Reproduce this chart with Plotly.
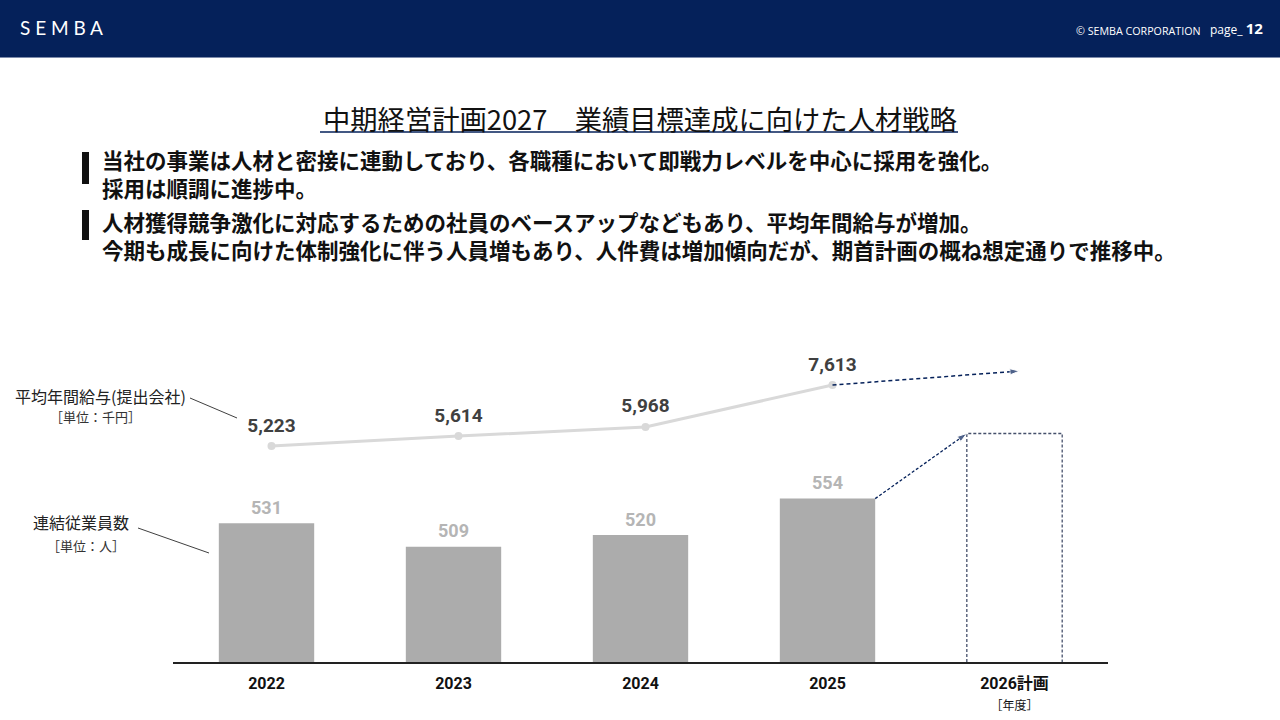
import plotly.graph_objects as go

# data
years = ["2022", "2023", "2024", "2025", "2026計画"]
employees = [531, 509, 520, 554]
employees_plan = 615      # dashed target box, no label on the slide
salary = [5223, 5614, 5968, 7613]
salary_plan = 8160        # where the dashed arrow points

NAVY = "#05215a"
FONT = "Noto Sans CJK JP"
NUMFONT = "Roboto, Noto Sans CJK JP"

W, H = 1280, 720
L, R, T, B = 173, 1108, 300, 662   # plot area in pixels
BAR_W = 0.51
Y1 = [401, 740]
Y2 = [-3241, 10944]


def px(x):
    return (x - L) / (R - L)


def py(y):
    return (B - y) / (B - T)


idx = list(range(len(years)))
fig = go.Figure()

fig.add_trace(go.Bar(
    x=idx[:4], y=employees, width=BAR_W,
    marker=dict(color="#acacac", line=dict(width=0)),
    hoverinfo="skip",
))
# bar value labels (text-only scatter so the gap above the bar can be tuned)
fig.add_trace(go.Scatter(
    x=idx[:4], y=employees, mode="text+markers",
    marker=dict(size=6, opacity=0),
    text=[str(v) for v in employees], textposition="top center",
    textfont=dict(family=NUMFONT, size=18, color="#b5b5b5", weight="bold"),
    hoverinfo="skip", cliponaxis=False,
))

# dashed plan box
x0, x1 = idx[4] - BAR_W / 2, idx[4] + BAR_W / 2
fig.add_trace(go.Scatter(
    x=[x0, x0, x1, x1], y=[Y1[0], employees_plan, employees_plan, Y1[0]],
    mode="lines", line=dict(color="#45506b", width=1.3, dash="3px,2px"),
    hoverinfo="skip",
))

# dashed arrow from 2025 bar to plan box
fig.add_trace(go.Scatter(
    x=[idx[3] + BAR_W / 2, x0], y=[employees[3], employees_plan],
    mode="lines+markers", line=dict(color=NAVY, width=1.3, dash="3px,2px"),
    marker=dict(symbol=["circle", "arrow"], size=[0, 10], color=NAVY, angleref="previous"),
    hoverinfo="skip", cliponaxis=False,
))

# salary line
fig.add_trace(go.Scatter(
    x=idx[:4], y=salary, xaxis="x2", yaxis="y2",
    mode="lines+markers",
    line=dict(color="#d9d9d9", width=3),
    marker=dict(color="#d9d9d9", size=8),
    hoverinfo="skip", cliponaxis=False,
))
fig.add_trace(go.Scatter(
    x=idx[:4], y=salary, xaxis="x2", yaxis="y2",
    mode="text+markers", marker=dict(size=14, opacity=0),
    text=[f"{v:,}" for v in salary], textposition="top center",
    textfont=dict(family=NUMFONT, size=19, color="#404040", weight="bold"),
    hoverinfo="skip", cliponaxis=False,
))

fig.add_trace(go.Scatter(
    x=[idx[3], idx[4]], y=[salary[3], salary_plan], xaxis="x2", yaxis="y2",
    mode="lines+markers", line=dict(color=NAVY, width=1.5, dash="4px,3px"),
    marker=dict(symbol=["circle", "arrow"], size=[0, 10], color=NAVY, angleref="previous"),
    hoverinfo="skip", cliponaxis=False,
))

ticks = [f"<b>{y}</b>" for y in years]
ticks[4] = "<b>2026計画</b><br><span style='font-size:12px'>［年度］</span>"

shapes = [
    dict(type="rect", xref="paper", yref="paper", x0=px(0), x1=px(W), y0=py(0), y1=py(57),
         fillcolor=NAVY, line=dict(width=0), layer="below"),
    dict(type="line", xref="paper", yref="paper", x0=px(0), x1=px(W), y0=py(57.5), y1=py(57.5),
         line=dict(color="#7d8bab", width=1)),
    dict(type="line", xref="paper", yref="paper", x0=px(320), x1=px(958), y0=py(132), y1=py(132),
         line=dict(color=NAVY, width=1.5)),
    dict(type="rect", xref="paper", yref="paper", x0=px(82), x1=px(89), y0=py(152), y1=py(184),
         fillcolor="#111111", line=dict(width=0)),
    dict(type="rect", xref="paper", yref="paper", x0=px(82), x1=px(89), y0=py(210), y1=py(240),
         fillcolor="#111111", line=dict(width=0)),
    dict(type="line", xref="paper", yref="paper", x0=px(190), x1=px(237), y0=py(398), y1=py(418),
         line=dict(color="#404040", width=1)),
    dict(type="line", xref="paper", yref="paper", x0=px(138), x1=px(209), y0=py(528), y1=py(553),
         line=dict(color="#404040", width=1)),
]


def note(text, x, y, size, color="#111111", anchor="left", family=FONT, weight="normal"):
    return dict(text=text, x=px(x), y=py(y), xref="paper", yref="paper",
                xanchor=anchor, yanchor="middle", showarrow=False, align=anchor,
                font=dict(family=family, size=size, color=color, weight=weight))


annotations = [
    note("S E M B A", 18, 28, 19, "#ffffff", family="Lato"),
    note("© SEMBA CORPORATION", 1203, 31, 10.7, "#ffffff", anchor="right", family="Open Sans"),
    note("page_ <b><span style='font-size:15px'>12</span></b>", 1265, 28, 12, "#ffffff",
         anchor="right", family="Open Sans"),
    note("中期経営計画2027　業績目標達成に向けた人材戦略", 640, 118, 27.3, anchor="center"),
    note("当社の事業は人材と密接に連動しており、各職種において即戦力レベルを中心に採用を強化。<br>"
         "採用は順調に進捗中。", 100, 173, 21.5, weight="bold"),
    note("人材獲得競争激化に対応するための社員のベースアップなどもあり、平均年間給与が増加。<br>"
         "今期も成長に向けた体制強化に伴う人員増もあり、人件費は増加傾向だが、期首計画の概ね想定通りで推移中。",
         100, 235, 21.5, weight="bold"),
    note("平均年間給与(提出会社)", 100, 396, 16, "#222222", anchor="center"),
    note("［単位：千円］", 95, 416, 13, "#333333", anchor="center"),
    note("連結従業員数", 81, 522, 16, "#222222", anchor="center"),
    note("［単位：人］", 86, 545, 13, "#333333", anchor="center"),
]

shift = 5 / 187
fig.update_layout(
    width=W, height=H, autosize=False,
    margin=dict(l=L, r=W - R, t=T, b=H - B, pad=0),
    paper_bgcolor="white", plot_bgcolor="white",
    showlegend=False,
    xaxis=dict(range=[-0.5, 4.5], tickvals=idx, ticktext=ticks, showgrid=False, zeroline=False,
               showline=True, linecolor="#222222", linewidth=2, ticks="", ticklabelstandoff=6,
               automargin=False, tickfont=dict(family=NUMFONT, size=16, color="#111111")),
    xaxis2=dict(range=[-0.5 - shift, 4.5 - shift], overlaying="x", visible=False),
    yaxis=dict(range=Y1, visible=False, automargin=False),
    yaxis2=dict(range=Y2, overlaying="y", visible=False, automargin=False),
    shapes=shapes, annotations=annotations,
    font=dict(family=FONT),
)

fig.write_html("out.html", config={"displayModeBar": False},
               post_script="document.body.style.margin='0';")
